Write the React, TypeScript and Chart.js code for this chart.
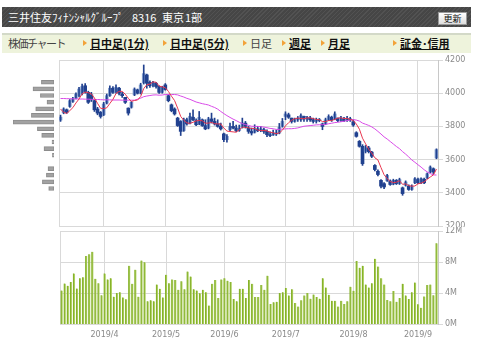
import React, { useEffect, useRef } from "react";
import { Chart, registerables } from "chart.js";
Chart.register(...registerables);

// ---- data ----
const dates = [
  "3/11","3/12","3/13","3/14","3/15","3/18","3/19","3/20","3/22","3/25","3/26","3/27","3/28","3/29",
  "4/1","4/2","4/3","4/4","4/5","4/8","4/9","4/10","4/11","4/12","4/15","4/16","4/17","4/18","4/19","4/22","4/23","4/24","4/25","4/26",
  "5/7","5/8","5/9","5/10","5/13","5/14","5/15","5/16","5/17","5/20","5/21","5/22","5/23","5/24","5/27","5/28","5/29","5/30","5/31",
  "6/3","6/4","6/5","6/6","6/7","6/10","6/11","6/12","6/13","6/14","6/17","6/18","6/19","6/20","6/21","6/24","6/25","6/26","6/27","6/28",
  "7/1","7/2","7/3","7/4","7/5","7/8","7/9","7/10","7/11","7/12","7/16","7/17","7/18","7/19","7/22","7/23","7/24","7/25","7/26","7/29","7/30","7/31",
  "8/1","8/2","8/5","8/6","8/7","8/8","8/9","8/13","8/14","8/15","8/16","8/19","8/20","8/21","8/22","8/23","8/26","8/27","8/28","8/29","8/30",
  "9/2","9/3","9/4","9/5","9/6","9/9","9/10",
];

const openP = [
  3838,3882,3900,3920,3950,3970,3985,4000,4045,4005,
  3990,3955,3905,3885,3870,3940,3985,4030,4008,4030,
  3995,3975,3910,3915,3990,4020,4000,4062,4110,4065,
  4045,4060,4040,4005,4050,3985,3930,3905,3850,3830,
  3775,3840,3820,3855,3835,3815,3840,3805,3790,3845,
  3830,3815,3800,3755,3720,3780,3800,3790,3775,3795,
  3820,3790,3770,3765,3785,3775,3780,3770,3750,3748,
  3760,3760,3800,3860,3870,3850,3830,3840,3840,3860,
  3845,3850,3840,3830,3840,3815,3815,3840,3855,3845,
  3850,3835,3845,3835,3845,3828,3762,3710,3680,3650,
  3670,3645,3565,3530,3475,3455,3472,3470,3452,3475,
  3455,3430,3445,3440,3420,3460,3480,3460,3482,3490,
  3525,3545,3610,
];
const highP = [
  3868,3912,3905,3962,3975,4002,4035,4055,4058,4012,
  4005,3960,3915,3890,3945,3995,4045,4040,4050,4035,
  4005,3975,3912,3950,4032,4025,4060,4170,4115,4075,
  4072,4065,4045,4042,4058,3990,3935,3912,3855,3835,
  3850,3850,3880,3900,3845,3890,3845,3840,3855,3880,
  3850,3840,3820,3760,3750,3820,3830,3808,3808,3850,
  3830,3800,3790,3810,3800,3800,3790,3780,3768,3778,
  3778,3818,3848,3888,3880,3850,3850,3860,3875,3862,
  3860,3860,3850,3850,3848,3820,3850,3870,3862,3888,
  3850,3860,3855,3860,3855,3840,3768,3715,3690,3685,
  3680,3650,3570,3538,3480,3462,3512,3478,3482,3480,
  3488,3435,3472,3448,3448,3492,3488,3490,3488,3520,
  3562,3550,3665,
];
const lowP = [
  3830,3876,3878,3915,3945,3965,3978,3990,4000,3938,
  3950,3890,3870,3850,3865,3935,3980,3998,4000,3990,
  3975,3938,3868,3910,3985,3995,3995,4055,4030,4035,
  4038,4030,3998,4000,4018,3948,3888,3868,3800,3745,
  3770,3808,3815,3835,3805,3810,3800,3780,3785,3820,
  3808,3795,3778,3708,3705,3775,3785,3768,3770,3790,
  3790,3758,3748,3760,3768,3768,3758,3738,3738,3745,
  3745,3755,3795,3840,3848,3820,3825,3830,3830,3830,
  3830,3830,3820,3820,3828,3780,3810,3835,3830,3840,
  3828,3830,3828,3830,3830,3800,3735,3675,3565,3640,
  3640,3612,3532,3502,3430,3425,3468,3445,3448,3450,
  3450,3385,3440,3415,3415,3455,3455,3455,3455,3485,
  3520,3515,3605,
];
const closeP = [
  3856,3905,3885,3955,3965,3995,4025,4040,4010,3945,
  3960,3900,3880,3860,3935,3985,4030,4005,4035,4000,
  3985,3945,3880,3945,4025,4000,4050,4118,4060,4045,
  4065,4040,4005,4035,4022,3955,3895,3875,3805,3770,
  3840,3815,3860,3840,3810,3855,3805,3785,3845,3830,
  3815,3800,3785,3720,3740,3800,3790,3775,3790,3820,
  3800,3770,3760,3785,3775,3785,3770,3750,3745,3760,
  3755,3795,3830,3875,3855,3830,3840,3850,3865,3845,
  3855,3840,3830,3840,3835,3800,3840,3860,3840,3875,
  3835,3850,3835,3848,3840,3808,3740,3680,3575,3672,
  3648,3620,3540,3510,3440,3435,3505,3450,3475,3455,
  3480,3395,3465,3420,3440,3485,3460,3485,3460,3515,
  3555,3525,3660,
];
const ma5 = [
  3905,3885,3878,3895,3913,3941,3965,3996,4007,4003,
  3996,3971,3939,3909,3907,3912,3938,3963,3998,4011,
  4011,3994,3969,3951,3956,3959,3980,4028,4051,4055,
  4068,4066,4043,4038,4033,4011,3982,3956,3910,3860,
  3837,3821,3818,3825,3833,3836,3834,3819,3820,3824,
  3816,3815,3815,3790,3772,3769,3767,3765,3779,3795,
  3795,3791,3788,3787,3778,3775,3775,3773,3765,3762,
  3756,3761,3777,3803,3822,3837,3846,3850,3848,3846,
  3851,3851,3847,3842,3840,3829,3829,3835,3835,3843,
  3850,3852,3847,3849,3842,3836,3814,3783,3729,3695,
  3663,3639,3611,3598,3552,3509,3486,3468,3461,3464,
  3473,3451,3454,3443,3440,3441,3454,3458,3466,3481,
  3495,3508,3543,
];
const ma25 = [
  3968,3968,3967,3967,3966,3966,3965,3965,3964,3964,
  3963,3962,3962,3961,3960,3960,3960,3959,3959,3959,
  3958,3958,3958,3958,3958,3964,3970,3979,3983,3986,
  3989,3990,3988,3989,3992,3992,3992,3992,3990,3983,
  3977,3969,3963,3955,3947,3942,3937,3933,3929,3921,
  3914,3904,3890,3877,3865,3854,3844,3835,3825,3817,
  3811,3806,3801,3800,3800,3798,3796,3792,3788,3786,
  3782,3782,3784,3785,3786,3786,3788,3791,3796,3801,
  3803,3805,3807,3809,3810,3810,3812,3816,3819,3823,
  3825,3828,3831,3835,3839,3841,3838,3832,3820,3813,
  3806,3797,3785,3770,3754,3737,3724,3709,3694,3679,
  3666,3648,3633,3616,3598,3584,3569,3555,3539,3526,
  3516,3508,3507,
];
// volume in millions of shares
const volume = [
  4.36,5.25,4.97,5.45,6.55,4.6,5.94,6.06,8.8,9.0,
  9.33,5.86,5.3,3.76,6.55,5.78,5.94,3.56,4.04,4.12,
  3.47,3.23,7.52,5.21,7.03,3.56,8.2,8.0,2.99,3.11,
  2.99,5.13,4.57,3.47,6.38,5.29,5.78,5.7,4.44,5.54,
  4.53,6.79,6.14,4.53,4.36,4.0,4.44,4.12,2.42,5.21,
  5.7,3.39,5.78,5.94,5.62,5.45,3.27,2.99,4.57,4.57,
  3.39,5.7,5.21,3.52,3.52,5.05,4.44,6.26,2.63,2.83,
  2.91,4.04,4.12,4.69,3.72,4.53,2.75,2.3,3.11,3.72,
  4.04,3.31,3.84,3.52,3.31,5.94,4.73,3.8,3.03,3.03,
  2.3,3.03,2.63,2.99,4.85,4.32,8.16,7.27,7.52,5.13,
  4.73,5.29,8.44,7.43,5.94,5.13,3.15,2.99,4.28,2.91,
  3.39,5.21,3.72,3.27,4.12,5.37,2.59,2.14,3.6,5.05,
  5.13,3.76,10.42,
];
// volume-by-price histogram (price band centre, relative volume)
const vbpPrice = [4066,4026,3986,3946,3906,3866,3826,3786,3746,3706,3666,3626,3586,3546,3506,3466,3426];
const vbpVolume = [126,210,136,70,183,226,410,166,123,20,100,16,0,60,76,116,53];

const priceMin = 3200;
const priceMax = 4200;
const priceStep = 200;
const volMax = 12;
const volStep = 4;
const yearLabel = "2019";

const navItems = [
  { text: "株価チャート", x: 8, kind: "title" },
  { text: "日中足(1分)", x: 90, kind: "link", bullet: 83 },
  { text: "日中足(5分)", x: 170, kind: "link", bullet: 163 },
  { text: "日足", x: 250, kind: "plain", bullet: 243 },
  { text: "週足", x: 289, kind: "link", bullet: 282 },
  { text: "月足", x: 328, kind: "link", bullet: 321 },
  { text: "証金･信用", x: 400, kind: "link", bullet: 393 },
];

// ---- helpers ----
const TICK_FONT = { family: "'DejaVu Sans', sans-serif", size: 8 };
const GRID = "#d9d9d9";
const TICK_COLOR = "#8a8a8a";
const CANDLE = "#21418f";
const CANDLE_UP = "#86a2d2";

const idx = dates.map((_, i) => i);
const month = (d: string) => d.split("/")[0];
const monthStarts = idx.filter((i) => i > 0 && month(dates[i]) !== month(dates[i - 1]));

const xScale = (showLabels: boolean) => ({
  type: "linear" as const,
  min: -0.5,
  max: dates.length - 0.5,
  offset: false,
  afterBuildTicks: (s: any) => {
    s.ticks = monthStarts.map((v) => ({ value: v }));
  },
  afterFit: (s: any) => {
    s.paddingLeft = 0;
    s.paddingRight = 0;
  },
  ticks: {
    display: showLabels,
    autoSkip: false,
    maxRotation: 0,
    font: TICK_FONT,
    color: TICK_COLOR,
    padding: 6,
    callback: (v: any) => `${yearLabel}/${month(dates[v])}`,
  },
  grid: { color: GRID, drawTicks: false, offset: false },
  border: { color: GRID },
});

const leftBorder = {
  position: "left" as const,
  display: true,
  ticks: { display: false },
  grid: { display: false },
  border: { color: GRID },
  afterFit: (s: any) => {
    s.width = 0;
  },
};

export default function App() {
  const priceRef = useRef<HTMLCanvasElement>(null);
  const volRef = useRef<HTMLCanvasElement>(null);
  const vbpRef = useRef<HTMLCanvasElement>(null);

  useEffect(() => {
    const charts: Chart[] = [];

    charts.push(
      new Chart(priceRef.current!, {
        type: "bar",
        data: {
          datasets: [
            {
              type: "line",
              data: idx.map((i) => ({ x: i, y: ma5[i] })),
              borderColor: "#e8364f",
              borderWidth: 1,
              pointRadius: 0,
            },
            {
              type: "line",
              data: idx.map((i) => ({ x: i, y: ma25[i] })),
              borderColor: "#d94be8",
              borderWidth: 1,
              pointRadius: 0,
            },
            {
              type: "bar",
              data: idx.map((i) => ({ x: i, y: [lowP[i], highP[i]] })),
              backgroundColor: CANDLE,
              barThickness: 1,
              grouped: false,
            },
            {
              type: "bar",
              data: idx.map((i) => ({ x: i, y: [openP[i], closeP[i]] })),
              backgroundColor: idx.map((i) => (closeP[i] >= openP[i] ? CANDLE_UP : CANDLE)),
              borderWidth: 0,
              barThickness: 3,
              grouped: false,
            },
          ] as any,
        },
        options: {
          responsive: false,
          animation: false,
          devicePixelRatio: 1,
          layout: { padding: { left: 59, top: 10, right: 0, bottom: 10 } },
          plugins: { legend: { display: false }, tooltip: { enabled: false } },
          scales: {
            x: xScale(false) as any,
            y: {
              position: "right",
              min: priceMin,
              max: priceMax,
              ticks: {
                stepSize: priceStep,
                font: TICK_FONT,
                color: TICK_COLOR,
                padding: 2,
                callback: (v: any) => String(v),
              },
              grid: { color: GRID, tickLength: 5 },
              border: { color: "#c8c8c8" },
              afterFit: (s: any) => {
                s.width = 42;
                s.paddingTop = 0;
                s.paddingBottom = 0;
              },
            },
            yl: leftBorder as any,
          },
        },
      })
    );

    charts.push(
      new Chart(volRef.current!, {
        type: "bar",
        data: {
          datasets: [
            {
              data: idx.map((i) => ({ x: i, y: volume[i] })),
              backgroundColor: "#86b22a",
              borderColor: "#b3d36a",
              borderWidth: { right: 1, left: 0, top: 0, bottom: 0 },
              borderSkipped: false,
              barThickness: 2,
              grouped: false,
            } as any,
          ],
        },
        options: {
          responsive: false,
          animation: false,
          devicePixelRatio: 1,
          layout: { padding: { left: 60, top: 4, right: 0, bottom: 12 } },
          plugins: { legend: { display: false }, tooltip: { enabled: false } },
          scales: {
            x: xScale(true) as any,
            y: {
              position: "right",
              min: 0,
              max: volMax,
              ticks: {
                stepSize: volStep,
                font: TICK_FONT,
                color: TICK_COLOR,
                padding: 2,
                callback: (v: any) => `${v}M`,
              },
              grid: { color: GRID, tickLength: 5 },
              border: { color: "#c8c8c8" },
              afterFit: (s: any) => {
                s.width = 42;
                s.paddingTop = 0;
                s.paddingBottom = 0;
              },
            },
            yl: leftBorder as any,
          },
        },
      })
    );

    charts.push(
      new Chart(vbpRef.current!, {
        type: "bar",
        data: {
          datasets: [
            {
              data: vbpPrice.map((p, k) => ({ x: vbpVolume[k], y: p })),
              backgroundColor: "#a2a2a2",
              borderColor: "#8c8c8c",
              borderWidth: 1,
              borderSkipped: false,
              barThickness: 4,
            },
          ],
        },
        options: {
          indexAxis: "y",
          responsive: false,
          animation: false,
          devicePixelRatio: 1,
          layout: { padding: 0 },
          plugins: { legend: { display: false }, tooltip: { enabled: false } },
          scales: {
            x: { type: "linear", display: false, min: 0, max: Math.max(...vbpVolume), reverse: true },
            y: { type: "linear", display: false, min: priceMin, max: priceMax, offset: false },
          },
        },
      })
    );

    return () => charts.forEach((c) => c.destroy());
  }, []);

  const jp = "'Noto Sans CJK JP', sans-serif";

  return (
    <div
      style={{
        position: "fixed",
        left: 0,
        top: 0,
        width: 480,
        height: 358,
        background: "#fff",
        overflow: "hidden",
        fontFamily: jp,
      }}
    >
      {/* header */}
      <div
        style={{
          position: "absolute",
          left: 2,
          top: 7,
          width: 469,
          height: 20,
          background:
            "repeating-linear-gradient(-45deg, #525252 0px, #525252 1px, #464646 1px, #464646 3px)",
          color: "#fff",
          fontSize: 11,
          lineHeight: "20px",
        }}
      >
        <span style={{ position: "absolute", left: 6 }}>三井住友ﾌｨﾅﾝｼｬﾙｸﾞﾙｰﾌﾟ</span>
        <span style={{ position: "absolute", left: 130 }}>8316</span>
        <span style={{ position: "absolute", left: 160 }}>東京</span>
        <span style={{ position: "absolute", left: 183 }}>1部</span>
        <div
          style={{
            position: "absolute",
            left: 436,
            top: 5,
            width: 27,
            height: 11,
            background: "linear-gradient(#ffffff, #dedede)",
            border: "1px solid #9a9a9a",
            color: "#111",
            fontSize: 9,
            lineHeight: "11px",
            textAlign: "center",
          }}
        >
          更新
        </div>
      </div>

      {/* nav */}
      <div
        style={{
          position: "absolute",
          left: 2,
          top: 33,
          width: 469,
          height: 18,
          background: "#eef3dc",
          borderTop: "2px solid #d3d9c8",
        }}
      />
      {navItems.map((n) => (
        <React.Fragment key={n.text}>
          {n.bullet !== undefined && (
            <div
              style={{
                position: "absolute",
                left: n.bullet,
                top: 40,
                width: 0,
                height: 0,
                borderTop: "3px solid transparent",
                borderBottom: "3px solid transparent",
                borderLeft: "4px solid #f2a23a",
              }}
            />
          )}
          <span
            style={{
              position: "absolute",
              left: n.x,
              top: 33,
              lineHeight: "20px",
              fontSize: 11,
              whiteSpace: "nowrap",
              color: n.kind === "link" ? "#111" : "#444",
              fontWeight: n.kind === "link" ? 700 : 400,
              textDecoration: n.kind === "link" ? "underline" : "none",
              letterSpacing: n.kind === "title" ? "-1.5px" : "normal",
            }}
          >
            {n.text}
          </span>
        </React.Fragment>
      ))}

      <canvas ref={vbpRef} width={41} height={166} style={{ position: "absolute", left: 13, top: 60 }} />
      <canvas ref={priceRef} width={480} height={186} style={{ position: "absolute", left: 0, top: 50 }} />
      <canvas
        ref={volRef}
        width={480}
        height={131}
        style={{ position: "absolute", left: 0, top: 227, background: "#fff" }}
      />
    </div>
  );
}
